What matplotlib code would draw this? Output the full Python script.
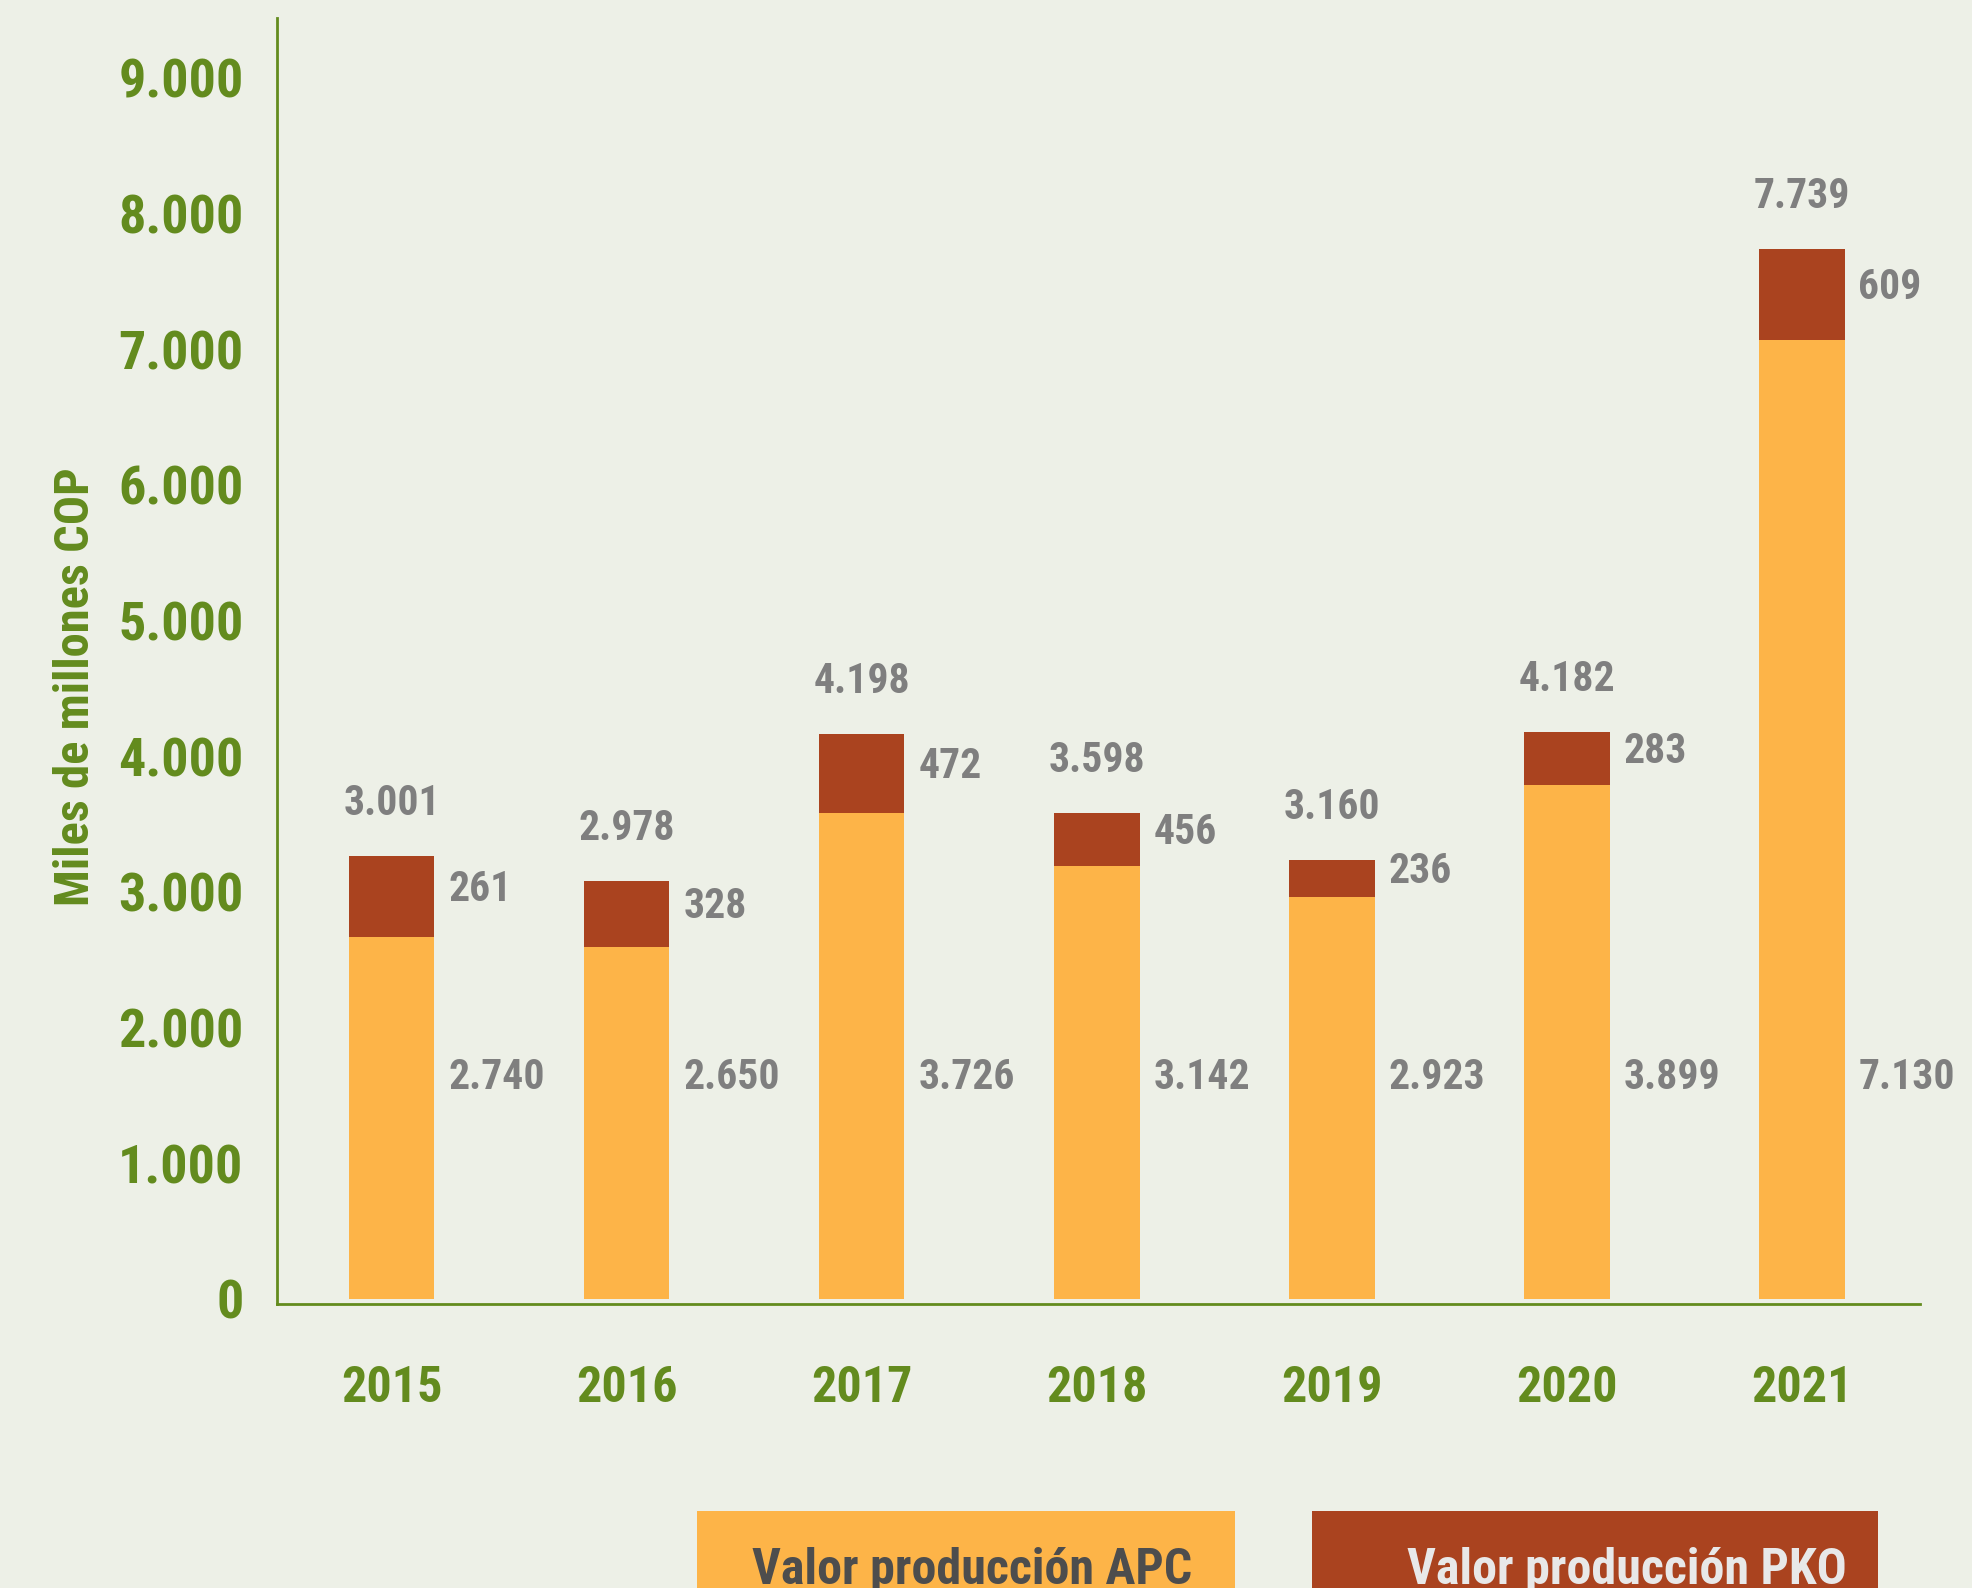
import matplotlib
matplotlib.use("Agg")
import matplotlib.pyplot as plt
from matplotlib import font_manager
from matplotlib.patches import Rectangle

# ---------------- data ----------------
years = ["2015", "2016", "2017", "2018", "2019", "2020", "2021"]
# bar segment heights as drawn in the picture
apc_bar = [2668, 2595, 3582, 3192, 2963, 3789, 7069]
pko_bar = [597, 486, 583, 390, 273, 390, 670]
# printed value labels
apc_labels = ["2.740", "2.650", "3.726", "3.142", "2.923", "3.899", "7.130"]
pko_labels = ["261", "328", "472", "456", "236", "283", "609"]
total_labels = ["3.001", "2.978", "4.198", "3.598", "3.160", "4.182", "7.739"]
yticks = [0, 1000, 2000, 3000, 4000, 5000, 6000, 7000, 8000, 9000]
ytick_labels = ["0", "1.000", "2.000", "3.000", "4.000", "5.000", "6.000", "7.000", "8.000", "9.000"]
legend_names = ["Valor producción APC", "Valor producción PKO"]

# ---------------- style ----------------
BG = "#EDF0E7"
ORANGE = "#FDB448"
RED = "#AA431F"
GREEN = "#638B1E"
GRAY = "#7F7F7F"

names = {f.name for f in font_manager.fontManager.ttflist}
family = "DejaVu Sans"
stretch = "condensed"
for cand in ["Liberation Sans Narrow", "Roboto Condensed", "Open Sans Condensed"]:
    if cand in names:
        family = cand
        break
plt.rcParams["font.family"] = [family, "DejaVu Sans"]
plt.rcParams["font.weight"] = "bold"
plt.rcParams["font.stretch"] = stretch

W, H = 1972, 1588
fig = plt.figure(figsize=(W / 100, H / 100), dpi=100, facecolor=BG)

left, right, bottom, top = 277, 1920, 1304, 18
ax = fig.add_axes([left / W, 1 - bottom / H, (right - left) / W, (bottom - top) / H])
ax.set_facecolor(BG)

x = list(range(len(years)))
width = 0.362
ax.bar(x, apc_bar, width=width, color=ORANGE, zorder=2)
ax.bar(x, pko_bar, width=width, bottom=apc_bar, color=RED, zorder=2)

ax.set_xlim(-0.489, 6.502)
ax.set_ylim(-37, 9440)

for s in ["top", "right"]:
    ax.spines[s].set_visible(False)
for s in ["left", "bottom"]:
    ax.spines[s].set_color(GREEN)
    ax.spines[s].set_linewidth(2.0)

ax.set_yticks(yticks)
ax.set_yticklabels(ytick_labels)
ax.set_xticks(x)
ax.set_xticklabels(years)
ax.tick_params(axis="y", length=0, pad=24, labelsize=39, labelcolor=GREEN)
ax.tick_params(axis="x", length=0, pad=44, labelsize=36, labelcolor=GREEN)
for lab in ax.get_xticklabels() + ax.get_yticklabels():
    lab.set_fontweight("bold")

ax.set_ylabel("Miles de millones COP", fontsize=35, color=GREEN, fontweight="bold", labelpad=0)
ax.yaxis.label.set_va("center")
ax.yaxis.set_label_coords((76 - left) / (right - left), (1588 - 687 - (H - bottom)) / (bottom - top))

# value labels
for i in x:
    tot = apc_bar[i] + pko_bar[i]
    ax.annotate(total_labels[i], (i, tot), xytext=(0, 38), textcoords="offset points",
                ha="center", va="center", fontsize=30, color=GRAY, fontweight="bold")
    ax.annotate(pko_labels[i], (i + width / 2, apc_bar[i] + pko_bar[i] / 2), xytext=(10, 5),
                textcoords="offset points", ha="left", va="center", fontsize=30,
                color=GRAY, fontweight="bold")
    ax.annotate(apc_labels[i], (i + width / 2, 1630), xytext=(10, 0),
                textcoords="offset points", ha="left", va="center", fontsize=30,
                color=GRAY, fontweight="bold")

# legend boxes
boxes = [(697, 1235, ORANGE, "#4D4D4D", 972), (1312, 1878, RED, "#E8E8E8", 1627)]
for (x0, x1, fc, tc, tx), name in zip(boxes, legend_names):
    fig.patches.append(Rectangle((x0 / W, 0), (x1 - x0) / W, (H - 1511) / H,
                                 transform=fig.transFigure, facecolor=fc, edgecolor="none"))
    fig.text(tx / W, 1 - 1571 / H, name, ha="center", va="center", fontsize=36,
             color=tc, fontweight="bold")

fig.savefig("out.png", dpi=100, facecolor=BG)
